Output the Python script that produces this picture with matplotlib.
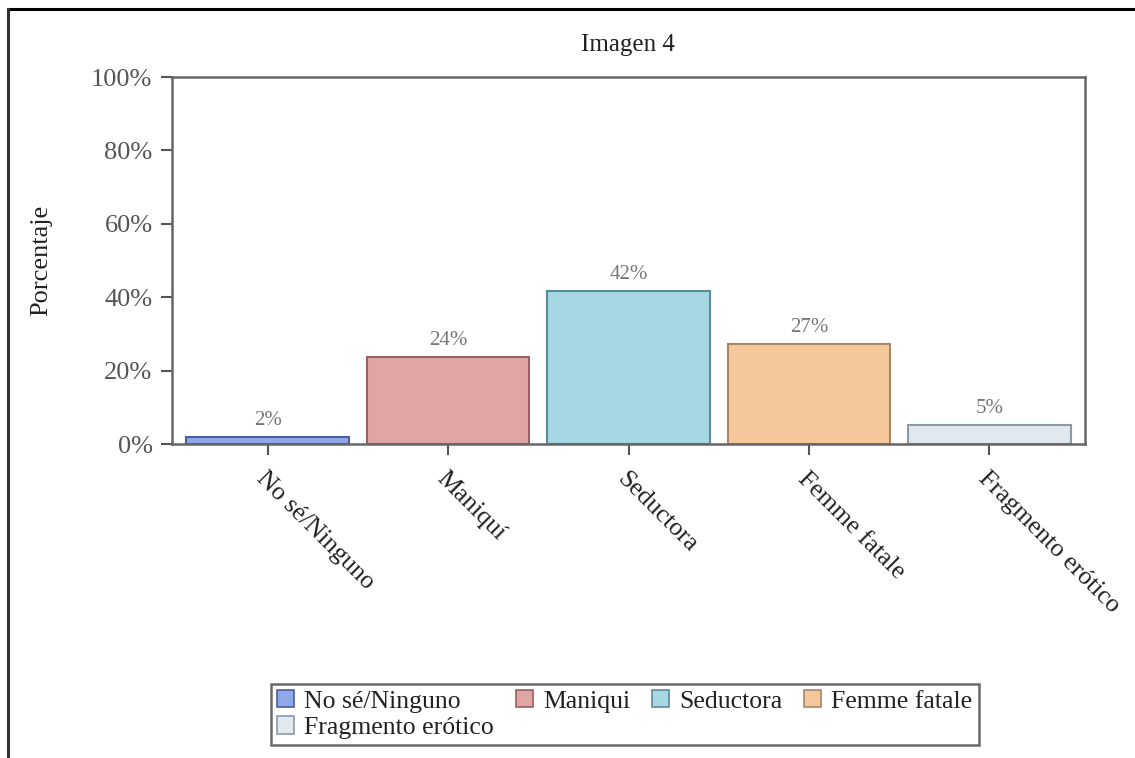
import matplotlib
matplotlib.use("Agg")
import matplotlib.pyplot as plt
from matplotlib.lines import Line2D
from matplotlib.patches import Patch

categories = ["No sé/Ninguno", "Maniquí", "Seductora", "Femme fatale", "Fragmento erótico"]
legend_labels = ["No sé/Ninguno", "Maniqui", "Seductora", "Femme fatale", "Fragmento erótico"]
values = [1.9, 23.6, 41.6, 27.3, 5.3]
value_labels = ["2%", "24%", "42%", "27%", "5%"]
yticks = [0, 20, 40, 60, 80, 100]
ytick_labels = ["0%", "20%", "40%", "60%", "80%", "100%"]
title = "Imagen 4"
ylabel = "Porcentaje"

fills = ["#8fa8ea", "#e0a5a5", "#a6d7e3", "#f4c89b", "#e1e9ef"]
edges = ["#4b5e9e", "#9a6060", "#5a8c98", "#a88666", "#8c9aa6"]

plt.rcParams["font.family"] = ["Liberation Serif", "DejaVu Serif"]

fig = plt.figure(figsize=(11.35, 7.58), dpi=100)
ax = fig.add_axes([0.1515, 0.4142, 0.956 - 0.1515, 0.8984 - 0.4142])

x = list(range(len(categories)))
bars = ax.bar(x, values, width=0.9, color=fills, edgecolor=edges, linewidth=1.5)
for xi, v, lab in zip(x, values, value_labels):
    ax.annotate(lab, (xi, v), xytext=(0, 5), textcoords="offset points",
                ha="center", va="bottom", fontsize=15, color="#777777")

ax.set_xlim(-0.53, 4.53)
ax.set_ylim(0, 100)
ax.set_yticks(yticks)
ax.set_yticklabels(ytick_labels, fontsize=19, color="#555555")
ax.set_xticks(x)
ax.set_xticklabels(categories, rotation=-45, ha="left", va="top",
                   rotation_mode="anchor", fontsize=18.5, color="#222222")
ax.tick_params(axis="both", direction="out", length=8, width=1.5, color="#555555")
ax.tick_params(axis="y", pad=6)
ax.tick_params(axis="x", pad=9)
for s in ax.spines.values():
    s.set_color("#666666")
    s.set_linewidth(1.8)
ax.set_ylabel(ylabel, fontsize=19, color="#222222", labelpad=28)
fig.text(0.5535, 0.940, title, ha="center", va="center", fontsize=18, color="#222222")

# legend (reordered so the fifth entry wraps under the first)
handles = [Patch(facecolor=f, edgecolor=e, linewidth=1.2) for f, e in zip(fills, edges)]
order = [0, 4, 1, 2, 3]
leg = fig.legend([handles[i] for i in order], [legend_labels[i] for i in order],
                 ncol=4, loc="center", bbox_to_anchor=(0.5505, 0.0574),
                 fontsize=18.5, frameon=True, fancybox=False, handlelength=0.65,
                 handleheight=0.65, handletextpad=0.4, columnspacing=0.85,
                 labelspacing=0.15, borderpad=0.25, borderaxespad=0.0)
leg.get_frame().set_edgecolor("#444444")
leg.get_frame().set_linewidth(1.8)
for t in leg.get_texts():
    t.set_color("#222222")

# outer frame (top and left edges)
fig.add_artist(Line2D([0.007, 1.0], [0.988, 0.988], transform=fig.transFigure, color="black", lw=2.2))
fig.add_artist(Line2D([0.007, 0.007], [0.0, 0.988], transform=fig.transFigure, color="#333333", lw=2.2))

fig.savefig("out.png", dpi=100)
